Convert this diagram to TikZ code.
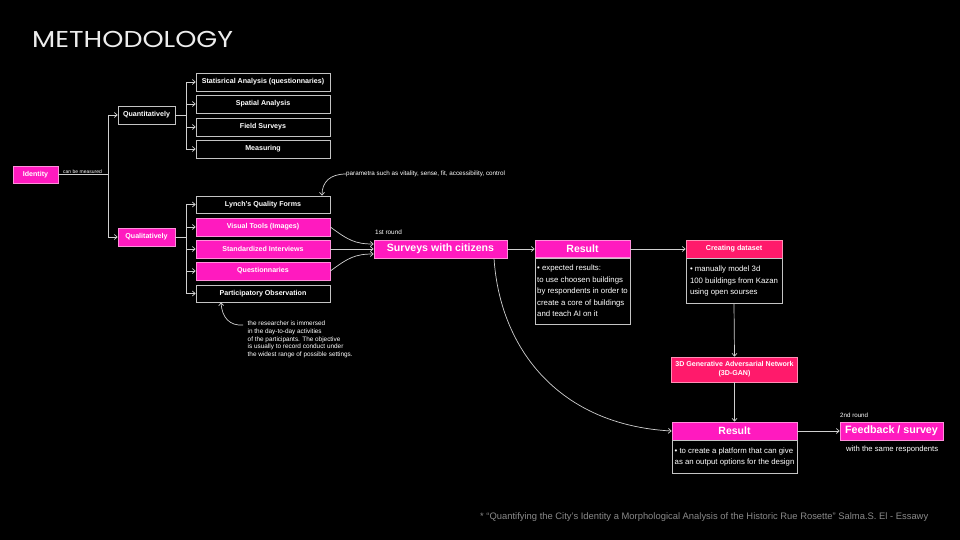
\documentclass[tikz,border=0pt]{standalone}
\usepackage{fontspec}
\setmainfont{Liberation Sans}
\newfontfamily\titlefont{Poppins}
\usetikzlibrary{arrows.meta}
\definecolor{hotpink}{HTML}{FF1ABF}
\definecolor{crimsonpink}{HTML}{FF1A6B}
\definecolor{linegray}{HTML}{D0D0D0}
\definecolor{boxborder}{HTML}{C4C4C4}
\definecolor{pinkborder}{HTML}{FF8FDA}
\definecolor{crimsonborder}{HTML}{FF8FB5}
\definecolor{notegray}{HTML}{8A8A8A}
\newcommand{\fs}[2]{\fontsize{#1}{#2}\selectfont}
\begin{document}
\begin{tikzpicture}[x=1pt,y=-1pt,
  line/.style={draw=linegray, line width=0.7pt},
  arr/.style={line, -{Straight Barb[length=2.8pt,width=5pt]}},
  box/.style={draw=boxborder, line width=0.7pt, inner sep=0pt, text=white,
    font=\bfseries\fs{7.1}{8}, minimum height=18pt},
  pinkbox/.style={box, fill=hotpink, draw=pinkborder},
  redbox/.style={box, fill=crimsonpink, draw=crimsonborder},
  method/.style={box, minimum width=134pt},
  pmethod/.style={pinkbox, minimum width=134pt},
  bodybox/.style={box, font=\fs{7.8}{11.5}, align=left},
  small/.style={text=white, inner sep=0pt, anchor=west},
]
\fill[black] (0,0) rectangle (960,540);
\useasboundingbox (0,0) rectangle (960,540);

% title
\node[text=white!93!black, inner sep=0pt, anchor=base west, font=\titlefont\fs{23}{26}] (title) at (32,47.3) {\scalebox{1.17}[1]{METHODOLOGY}};

% identity
\node[pinkbox, minimum width=45pt, minimum height=17pt] (identity) at (35.5,174.5) {Identity};
\node[small, font=\fs{5}{6}] (measured) at (63,172) {can be measured};
\node[box, minimum width=57pt] (quant) at (146.5,115) {Quantitatively};
\node[pinkbox, minimum width=57pt] (qual) at (146.5,237) {Qualitatively};

\coordinate (j1) at (108,174.5);
\draw[line] (identity.east) -- (j1);
\draw[arr] (j1) |- (quant.west);
\draw[arr] (j1) |- (qual.west);

% quantitative methods
\node[method] (stat) at (263,82) {Statisrical Analysis (questionnaries)};
\node[method] (spatial) at (263,104) {Spatial Analysis};
\node[method] (field) at (263,127) {Field Surveys};
\node[method] (measuring) at (263,149) {Measuring};
\coordinate (j2) at (186,115);
\draw[line] (quant.east) -- (j2);
\foreach \n in {stat,spatial,field,measuring}{\draw[arr] (j2) |- (\n.west);}

% qualitative methods
\node[method, minimum height=17pt] (lynch) at (263,204.5) {Lynch's Quality Forms};
\node[pmethod] (visual) at (263,227) {Visual Tools (Images)};
\node[pmethod] (interviews) at (263,249) {Standardized Interviews};
\node[pmethod] (questionnaries) at (263,271) {Questionnaries};
\node[method, minimum height=17pt] (observation) at (263,293.5) {Participatory Observation};
\coordinate (j3) at (186,237);
\draw[line] (qual.east) -- (j3);
\foreach \n in {lynch,visual,interviews,questionnaries,observation}{\draw[arr] (j3) |- (\n.west);}

% annotations
\node[small, font=\fs{6.3}{7}] (params) at (346,174) {parametra such as vitality, sense, fit, accessibility, control};
\draw[arr] (params.west) .. controls (330,174) and (322,182) .. (lynch.north -| 322,0);
\node[text=white, inner sep=0pt, anchor=north west, align=left, font=\fs{6.4}{7.7}] (researcher) at (247.5,321)
  {the researcher is immersed\\in the day-to-day activities\\of the participants. The objective\\is usually to record conduct under\\the widest range of possible settings.};
\coordinate (rstart) at (243,325);
\draw[arr] (rstart) .. controls (230,326) and (222,318) .. (observation.south -| 221,0);

% surveys
\node[pinkbox, minimum width=133pt, font=\bfseries\fs{10.6}{12}] (surveys) at (440.5,249) {Surveys with citizens};
\node[small, font=\fs{6.4}{7}] (round1) at (375,232) {1st round};
\draw[arr] (visual.east) .. controls (348,240) and (355,244) .. ([yshift=5pt]surveys.west);
\draw[arr] (interviews.east) -- (interviews.east -| surveys.west);
\draw[arr] (questionnaries.east) .. controls (348,258) and (355,254) .. ([yshift=-5pt]surveys.west);

% result 1
\node[pinkbox, minimum width=95pt, minimum height=17pt, font=\bfseries\fs{10.5}{12}] (res1) at (582.5,249) {Result};
\node[bodybox, minimum width=95pt, minimum height=66pt, anchor=north] (res1body) at (res1.south)
  {\textbullet\ expected results:\\to use choosen buildings\\by respondents in order to\\create a core of buildings\\and teach AI on it};
\draw[arr] (surveys.east) -- (res1.west);

% creating dataset
\node[redbox, minimum width=96pt, font=\bfseries\fs{7.2}{8}] (dataset) at (734,249) {Creating dataset};
\node[bodybox, minimum width=96pt, minimum height=45pt, anchor=north] (datasetbody) at (dataset.south)
  {\textbullet\ manually model 3d\\100 buildings from Kazan\\using open sourses};
\draw[arr] (res1.east) -- (dataset.west);

% GAN
\node[redbox, minimum width=126pt, minimum height=25pt, align=center, font=\bfseries\fs{7.1}{9}] (gan) at (734.5,369.5)
  {3D Generative Adversarial Network\\(3D-GAN)};
\draw[arr] (datasetbody.south) -- (gan.north);

% result 2
\node[pinkbox, minimum width=125pt, font=\bfseries\fs{10.5}{12}] (res2) at (734.5,431) {Result};
\node[bodybox, minimum width=125pt, minimum height=33pt, anchor=north] (res2body) at (res2.south)
  {\textbullet\ to create a platform that can give\\as an output options for the design};
\draw[arr] (gan.south) -- (res2.north);
\draw[arr] ([xshift=53.5pt]surveys.south) .. controls (500,350) and (560,425) .. (res2.west);

% feedback
\node[pinkbox, minimum width=103pt, font=\bfseries\fs{10.7}{12}] (feedback) at (891.5,431) {Feedback / survey};
\node[small, font=\fs{6.2}{7}] (round2) at (840,415) {2nd round};
\node[small, font=\fs{7.7}{9}] (same) at (846,450) {with the same respondents};
\draw[arr] (res2.east) -- (feedback.west);

% footnote
\node[inner sep=0pt, anchor=west, text=notegray, font=\fs{9.4}{11}] (footnote) at (480,517)
  {* “Quantifying the City’s Identity a Morphological Analysis of the Historic Rue Rosette” Salma.S. El - Essawy};
\end{tikzpicture}
\end{document}
